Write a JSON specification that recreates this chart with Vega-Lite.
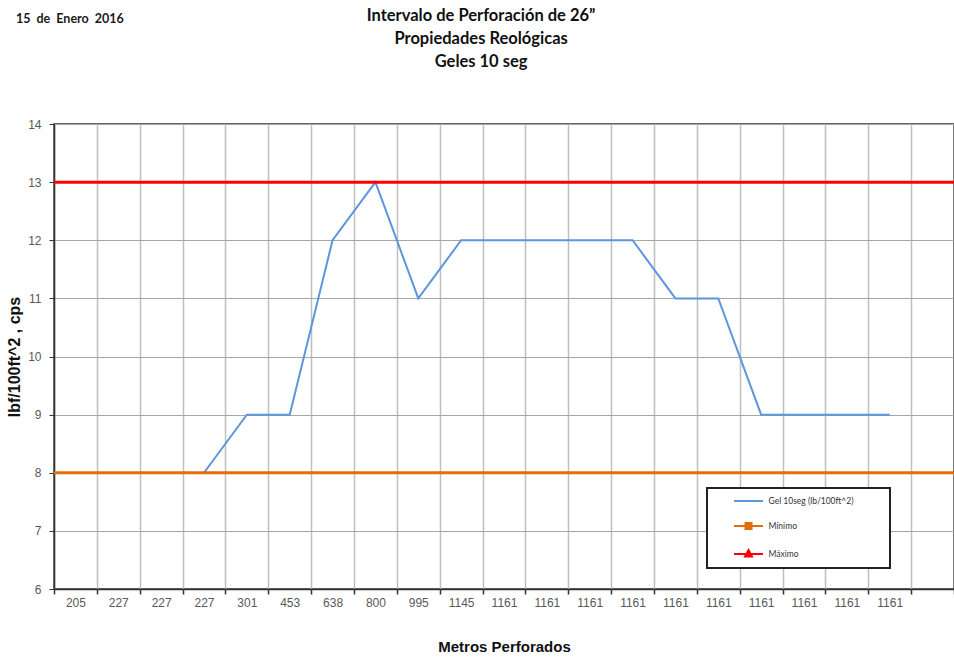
{
  "$schema": "https://vega.github.io/schema/vega-lite/v6.json",
  "background": "white",
  "padding": {"left": 5, "top": 6, "right": 0, "bottom": 0},
  "title": {
    "text": "15\u00a0 de\u00a0 Enero\u00a0 2016",
    "anchor": "start",
    "frame": "bounds",
    "font": "Lato",
    "fontSize": 12.5,
    "fontWeight": "bold",
    "color": "#1a1a1a",
    "dx": 10,
    "dy": 23
  },
  "config": {
    "view": {"stroke": "#333333", "strokeWidth": 1.5}
  },
  "vconcat": [
    {
      "width": 900,
      "height": 465,
      "title": {
        "text": ["Intervalo de Perforación de 26”", "Propiedades Reológicas", "Geles 10 seg"],
        "anchor": "middle",
        "frame": "bounds",
        "font": "Lato",
        "fontSize": 16.5,
        "fontWeight": "bold",
        "lineHeight": 23,
        "offset": 48,
        "color": "#111111"
      },
      "data": {
        "values": [
          {"i": 1, "gel": null},
          {"i": 2, "gel": null},
          {"i": 3, "gel": null},
          {"i": 4, "gel": 8},
          {"i": 5, "gel": 9},
          {"i": 6, "gel": 9},
          {"i": 7, "gel": 12},
          {"i": 8, "gel": 13},
          {"i": 9, "gel": 11},
          {"i": 10, "gel": 12},
          {"i": 11, "gel": 12},
          {"i": 12, "gel": 12},
          {"i": 13, "gel": 12},
          {"i": 14, "gel": 12},
          {"i": 15, "gel": 11},
          {"i": 16, "gel": 11},
          {"i": 17, "gel": 9},
          {"i": 18, "gel": 9},
          {"i": 19, "gel": 9},
          {"i": 20, "gel": 9},
          {"i": 21, "gel": null}
        ]
      },
      "layer": [
        {
          "mark": {"type": "line", "strokeWidth": 2},
          "encoding": {
            "x": {
              "field": "i",
              "type": "ordinal",
              "scale": {
                "type": "band",
                "paddingInner": 0,
                "paddingOuter": 0,
                "domain": [1, 2, 3, 4, 5, 6, 7, 8, 9, 10, 11, 12, 13, 14, 15, 16, 17, 18, 19, 20, 21]
              },
              "axis": {
                "title": "Metros Perforados",
                "labelExpr": "['205','227','227','227','301','453','638','800','995','1145','1161','1161','1161','1161','1161','1161','1161','1161','1161','1161',''][datum.value - 1]",
                "labelAngle": 0,
                "tickBand": "extent",
                "grid": true,
                "gridColor": "#BFBFBF",
                "gridWidth": 1.5,
                "domainColor": "#333333",
                "domainWidth": 1.5,
                "tickColor": "#333333",
                "tickSize": 5,
                "tickWidth": 1.5,
                "labelFont": "Liberation Sans",
                "labelFontSize": 12,
                "labelColor": "#595959",
                "labelPadding": 3,
                "titleFont": "Liberation Sans",
                "titleFontSize": 15,
                "titleFontWeight": "bold",
                "titleColor": "#111111",
                "titlePadding": 31
              }
            },
            "y": {
              "field": "gel",
              "type": "quantitative",
              "scale": {"domain": [6, 14], "nice": false, "zero": false},
              "axis": {
                "title": "lbf/100ft^2 , cps",
                "values": [6, 7, 8, 9, 10, 11, 12, 13, 14],
                "format": "d",
                "grid": true,
                "gridColor": "#A6A6A6",
                "gridWidth": 1.2,
                "domainColor": "#333333",
                "domainWidth": 1.5,
                "tickColor": "#333333",
                "tickSize": 5,
                "labelFont": "Liberation Sans",
                "labelFontSize": 12,
                "labelColor": "#595959",
                "labelPadding": 8,
                "titleFont": "Liberation Sans",
                "titleFontSize": 16,
                "titleFontWeight": "bold",
                "titleColor": "#111111",
                "titlePadding": 5
              }
            },
            "color": {
              "datum": "Gel 10seg (lb/100ft^2)",
              "scale": {
                "domain": ["Gel 10seg (lb/100ft^2)", "Mínimo", "Máximo"],
                "range": ["#5E96DC", "#E46C0A", "#FF0000"]
              },
              "legend": {
                "title": "\u00a0",
                "titleOrient": "right",
                "titlePadding": 30,
                "orient": "none",
                "legendX": 653,
                "legendY": 364,
                "padding": 7,
                "symbolSize": 100,
                "symbolOffset": 28.5,
                "labelOffset": 14,
                "rowPadding": 13,
                "labelFont": "Lato",
                "labelFontSize": 8.5,
                "labelColor": "#333333",
                "strokeColor": "#222222",
                "fillColor": "white",
                "encode": {
                  "legend": {"update": {"strokeWidth": {"value": 2}}},
                  "symbols": {
                    "update": {
                      "shape": {"signal": "datum.value === 'Mínimo' ? 'M-2.9,0H2.9M-0.6,-0.6H0.6V0.6H-0.6Z' : datum.value === 'Máximo' ? 'M-2.9,0H2.9M0,-0.8L0.7,0.5H-0.7Z' : 'M-2.9,0H2.9'"},
                      "fill": {"signal": "scale('color', datum.value)"},
                      "stroke": {"signal": "scale('color', datum.value)"},
                      "strokeWidth": {"value": 2},
                      "opacity": {"value": 1}
                    }
                  }
                }
              }
            }
          }
        },
        {
          "data": {"values": [{"nivel": 8}]},
          "mark": {"type": "rule", "strokeWidth": 3},
          "encoding": {
            "y": {"field": "nivel", "type": "quantitative"},
            "color": {"datum": "Mínimo"}
          }
        },
        {
          "data": {"values": [{"nivel": 13}]},
          "mark": {"type": "rule", "strokeWidth": 3},
          "encoding": {
            "y": {"field": "nivel", "type": "quantitative"},
            "color": {"datum": "Máximo"}
          }
        }
      ]
    }
  ]
}
